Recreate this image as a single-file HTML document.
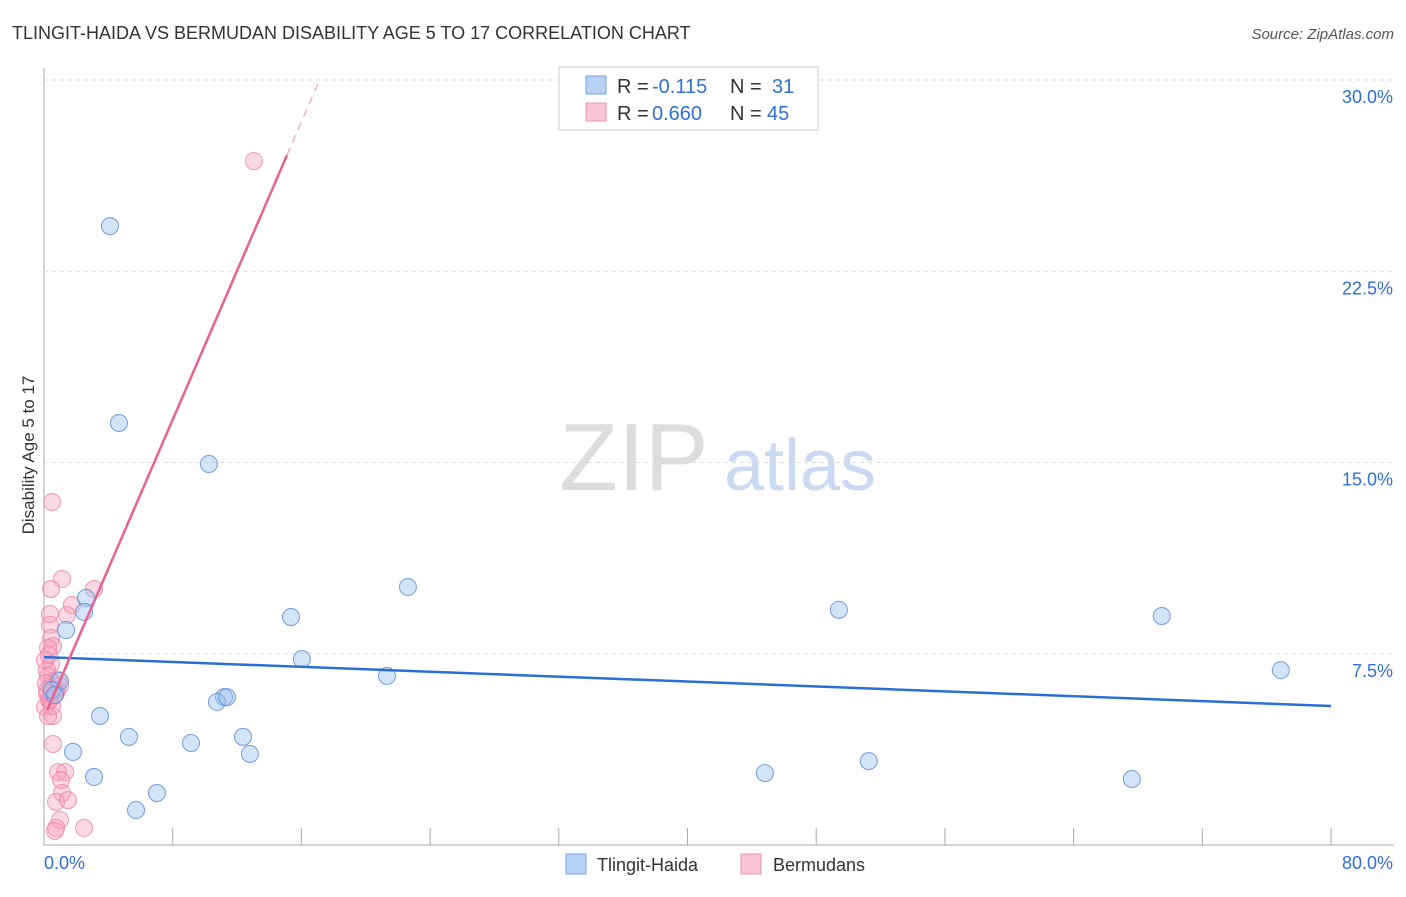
<!DOCTYPE html>
<html><head><meta charset="utf-8"><style>
body{margin:0;background:#fff;font-family:"Liberation Sans",sans-serif}
svg text{font-family:"Liberation Sans",sans-serif}
</style></head><body>
<svg id="c" width="1406" height="892" xmlns="http://www.w3.org/2000/svg">
<text x="12" y="39" font-size="18" fill="#333">TLINGIT-HAIDA VS BERMUDAN DISABILITY AGE 5 TO 17 CORRELATION CHART</text>
<text x="1394" y="39" font-size="15" fill="#555" font-style="italic" text-anchor="end">Source: ZipAtlas.com</text>
<text x="34" y="455" font-size="17" fill="#333" text-anchor="middle" transform="rotate(-90 34 455)">Disability Age 5 to 17</text>
<g><text x="634" y="490" font-size="96" fill="#ddd" font-family="Liberation Serif" text-anchor="middle">ZIP</text><text x="800" y="490" font-size="72" fill="#c9daf2" text-anchor="middle">atlas</text></g>
<g id="grid"></g><g id="pts"></g><g id="lines"></g>
<g>
<rect x="559" y="67" width="259" height="63" fill="#fff" stroke="#ccc"/>
<rect x="586" y="76" width="20" height="18" fill="#b8d1f5" stroke="#7aa4e0"/>
<rect x="586" y="103" width="20" height="18" fill="#f9c4d4" stroke="#ec93ae"/>
<g font-size="20" fill="#333">
<text x="617" y="93">R =</text><text x="652" y="93" fill="#2f6fd6">-0.115</text><text x="730" y="93">N =</text><text x="772" y="93" fill="#2f6fd6">31</text>
<text x="617" y="120">R =</text><text x="652" y="120" fill="#2f6fd6">0.660</text><text x="730" y="120">N =</text><text x="767" y="120" fill="#2f6fd6">45</text>
</g>
</g>
<g>
<rect x="566" y="854" width="20" height="20" fill="#b8d1f5" stroke="#7aa4e0"/><text x="597" y="871" font-size="18" fill="#333">Tlingit-Haida</text>
<rect x="741" y="854" width="20" height="20" fill="#f9c4d4" stroke="#ec93ae"/><text x="773" y="871" font-size="18" fill="#333">Bermudans</text>
</g>
</svg>
<script>
const xTicks=[0,80];
const yTicks=[7.5,15,22.5,30];
const blueX=[4.10,4.66,10.25,22.62,15.35,49.41,69.48,2.61,2.49,1.37,0.99,16.03,21.32,76.88,11.19,10.75,11.37,3.48,5.28,9.14,12.37,12.80,1.80,3.11,7.02,5.72,44.81,51.27,67.62,0.50,0.68];
const blueY=[24.27,16.55,14.94,10.12,8.94,9.22,8.98,9.69,9.14,8.43,6.43,7.29,6.63,6.86,5.80,5.61,5.80,5.06,4.24,4.00,4.24,3.57,3.65,2.67,2.04,1.37,2.82,3.29,2.59,6.08,5.88];
const pinkX=[13.05,0.50,1.12,0.44,3.11,0.37,1.43,1.74,0.37,0.44,0.56,0.25,0.44,0.19,0.25,0.5,0.68,0.19,0.37,0.06,0.56,0.25,0.56,0.87,1.31,1.06,1.12,0.75,1.49,0.99,0.75,0.68,2.49,0.81,0.37,0.12,0.87,0.62,0.31,0.19,0.99,0.06,0.31,0.5,0.75];
const pinkY=[26.82,13.45,10.43,10.04,10.04,9.06,9.02,9.41,8.63,8.12,7.80,7.73,7.10,6.86,6.63,6.39,6.08,5.92,5.69,5.41,5.06,5.06,3.96,2.86,2.86,2.55,2.04,1.69,1.76,0.98,0.67,0.55,0.67,6.08,6.16,6.35,6.47,5.84,5.69,6.08,6.24,7.25,7.45,5.45,5.96];
const blueLine=[7.37,5.45];
const pinkLine=[5.0,1.46];
const NS='http://www.w3.org/2000/svg';
const sx=v=>44+v*16.0875, sy=v=>845-v*25.5;
function mk(t,a,p){const e=document.createElementNS(NS,t);for(const k in a)e.setAttribute(k,a[k]);p.appendChild(e);return e;}
const g=document.getElementById('grid'),P=document.getElementById('pts'),L=document.getElementById('lines');
mk('line',{x1:44,y1:68,x2:44,y2:845,stroke:'#aaa'},g);
mk('line',{x1:44,y1:845,x2:1394,y2:845,stroke:'#aaa'},g);
for(let i=1;i<=10;i++){mk('line',{x1:sx(i*8),y1:828,x2:sx(i*8),y2:845,stroke:'#aaa'},g);}
yTicks.forEach(v=>{const l=mk('line',{x1:44,y1:sy(v),x2:1394,y2:sy(v),stroke:'#ddd','stroke-dasharray':'4,4'},g);


const t=mk('text',{x:1393,y:sy(v)+23,'font-size':18,fill:'#2f6fd6','text-anchor':'end'},g);t.textContent=v.toFixed(1)+'%';

});
xTicks.forEach((v,i)=>{const t=mk('text',{x:i?1393:44,y:869,'font-size':18,fill:'#2f6fd6','text-anchor':i?'end':'start'},g);t.textContent=v.toFixed(1)+'%';

});
pinkX.forEach((x,i)=>{const c=mk('circle',{cx:sx(x),cy:sy(pinkY[i]),r:8.5,fill:'rgba(246,160,188,0.4)',stroke:'rgba(236,130,165,0.8)'},P);

});
blueX.forEach((x,i)=>{const c=mk('circle',{cx:sx(x),cy:sy(blueY[i]),r:8.5,fill:'rgba(160,195,240,0.45)',stroke:'rgba(90,140,220,0.85)'},P);

});
let b=mk('line',{x1:sx(0),y1:sy(blueLine[0]),x2:sx(80),y2:sy(blueLine[1]),stroke:'#2a6fd3','stroke-width':2.5},L);


const xe=15.1,xt=(30-pinkLine[0])/pinkLine[1];
let p=mk('line',{x1:sx(0.2),y1:sy(pinkLine[0]+0.2*pinkLine[1]),x2:sx(xe),y2:sy(pinkLine[0]+xe*pinkLine[1]),stroke:'#e8628e','stroke-width':2.5},L);


let d=mk('line',{x1:sx(xe),y1:sy(pinkLine[0]+xe*pinkLine[1]),x2:sx(xt),y2:sy(30),stroke:'#f0a0b8','stroke-width':1.2,'stroke-dasharray':'8,6'},L);


</script>
</body></html>
